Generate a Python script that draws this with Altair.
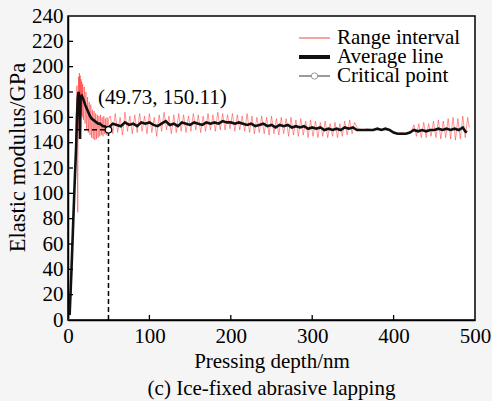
import altair as alt
import pandas as pd

# ---------------- data ----------------
avg_x = [2, 4, 6, 8, 10, 11, 12, 13, 14, 14.8, 15.5, 17, 19, 21, 23, 25, 27, 29, 31, 33,
         35, 37, 39, 41, 43, 45, 47, 50,
         55, 60, 65, 70, 75, 80, 85, 90, 95, 100, 105, 110, 115, 120, 125, 130, 135, 140,
         145, 150, 155, 160, 165, 170, 175, 180, 185, 190, 195, 200, 205, 210, 215, 220,
         225, 230, 235, 240, 245, 250, 255, 260, 265, 270, 275, 280, 285, 290, 295, 300,
         305, 310, 315, 320, 325, 330, 335, 340, 345, 350, 355, 360, 365, 370, 375, 380,
         385, 390, 395, 400, 405, 410, 415, 420, 425, 430, 435, 440, 445, 450, 455, 460,
         465, 470, 475, 480, 485, 488, 490]
avg_y = [4, 35, 70, 105, 137, 160, 175, 180, 176, 143, 176, 177, 174, 170, 167, 164, 161, 159, 158, 157,
         156, 155, 155, 154, 153, 153, 152, 152,
         155, 154, 153, 156, 154, 155, 153, 156, 155, 156, 154, 153, 155, 157, 154, 155, 153, 156,
         155, 154, 156, 155, 154, 156, 155, 156, 155, 157, 156, 156, 155, 156, 155, 154,
         155, 153, 154, 155, 153, 154, 152, 154, 153, 154, 152, 153, 152, 153, 151, 152,
         151, 152, 150, 151, 150, 151, 150, 152, 151, 152, 150, 150, 150, 150, 150, 151,
         150, 151, 150, 148, 147, 147, 147, 148, 150, 149, 150, 149, 150, 150, 151, 150,
         151, 150, 151, 150, 152, 149, 148]

rng_x = [1, 2, 3, 4, 5, 6, 7, 8, 9, 10, 11, 11.5, 12, 12.5, 13, 13.5, 14, 14.5, 15, 15.5,
         16, 16.5, 17, 17.5, 18, 19, 20, 21, 22, 23, 24, 25, 26, 27, 28, 29, 30, 31, 32, 33,
         34, 35, 36, 37, 38, 39, 40, 41, 42, 43, 44, 45, 46, 47, 48, 49, 50,
         52, 55, 58, 61, 64, 67, 70, 73, 76, 79, 82, 85, 88, 91, 94, 97, 100, 103, 106, 109,
         112, 115, 118, 121, 124, 127, 130, 133, 136, 139, 142, 145, 148, 151, 154, 157, 160,
         163, 166, 169, 172, 175, 178, 181, 184, 187, 190, 193, 196, 199, 202, 205, 208, 211,
         214, 217, 220, 223, 226, 229, 232, 235, 238, 241, 244, 247, 250, 253, 256, 259, 262,
         265, 268, 271, 274, 277, 280, 283, 286, 289, 292, 295, 298, 301, 304, 307, 310, 313,
         316, 319, 322, 325, 328, 331, 334, 337, 340, 343, 346, 349, 352,
         356, 362, 368, 374, 380, 386, 392, 398, 404, 410, 416, 422,
         425, 428, 431, 434, 437, 440, 443, 446, 449, 452, 455, 458, 461, 464, 467, 470, 473,
         476, 479, 482, 485, 488, 491, 493]
rng_y = [0, 3, 20, 38, 55, 72, 88, 108, 125, 150, 185, 120, 85, 170, 192, 150, 195, 160, 193, 158,
         190, 162, 188, 160, 186, 158, 184, 155, 180, 150, 176, 148, 172, 146, 170, 144, 166, 143, 165, 142,
         163, 143, 162, 144, 161, 145, 162, 146, 160, 145, 161, 147, 159, 146, 160, 147, 159,
         161, 147, 163, 148, 160, 146, 164, 149, 161, 147, 162, 148, 163, 149, 161, 147, 163, 148, 160, 145,
         162, 149, 164, 150, 161, 147, 162, 148, 163, 149, 162, 148, 161, 149, 163, 150, 162,
         148, 161, 149, 163, 150, 162, 149, 164, 150, 163, 150, 162, 151, 163, 149, 162, 150,
         161, 149, 163, 148, 161, 147, 160, 148, 161, 147, 160, 146, 161, 147, 159, 146, 160,
         147, 159, 145, 160, 146, 158, 145, 159, 146, 157, 144, 158, 145, 157, 144, 156, 145,
         157, 144, 155, 145, 156, 144, 155, 145, 157, 146, 158, 147, 156,
         151, 150, 151, 150, 151, 150, 151, 149, 147, 148, 147, 149,
         154, 145, 155, 144, 156, 144, 155, 145, 157, 144, 158, 143, 157, 144, 159, 143, 160,
         142, 159, 143, 161, 144, 160, 152]

crit_x = [49.73]
crit_y = [150.11]
crit_label = ["(49.73, 150.11)"]

x_tick_values = [100, 200, 300, 400]
y_tick_values = [20, 40, 60, 80, 100, 120, 140, 160, 180, 200, 220]
x_label_values = [0, 100, 200, 300, 400, 500]
y_label_values = [0, 20, 40, 60, 80, 100, 120, 140, 160, 180, 200, 220, 240]

legend_labels = ["Range interval", "Average line", "Critical point"]

# ---------------- tables ----------------
avg_df = pd.DataFrame({"x": avg_x, "y": avg_y})
rng_df = pd.DataFrame({"x": rng_x, "y": rng_y})
crit_df = pd.DataFrame({"x": crit_x, "y": crit_y, "label": crit_label})
vline_df = pd.DataFrame({"x": [crit_x[0], crit_x[0]], "y": [0, crit_y[0]]})
hline_df = pd.DataFrame({"x": [0, crit_x[0]], "y": [crit_y[0], crit_y[0]]})
xt_df = pd.DataFrame({"x": x_tick_values})
yt_df = pd.DataFrame({"y": y_tick_values})

FONT = "Liberation Serif"
W, H = 407, 304

xscale = alt.Scale(domain=[0, 500], nice=False, zero=False)
yscale = alt.Scale(domain=[0, 240], nice=False, zero=False)

xaxis = alt.Axis(values=x_label_values, ticks=False, tickSize=0, grid=False,
                 labelFont=FONT, labelFontSize=21, labelColor="black",
                 labelBaseline="alphabetic", labelPadding=22, labelFlush=False,
                 titleFont=FONT, titleFontSize=21, titleFontWeight="normal", titleColor="black",
                 titleBaseline="alphabetic", titleY=47, titleX=W / 2, titleAlign="center",
                 domainColor="black", domainWidth=1.5)
yaxis = alt.Axis(values=y_label_values, ticks=False, tickSize=0, grid=False,
                 labelFont=FONT, labelFontSize=21, labelColor="black",
                 labelBaseline="middle", labelPadding=5, labelFlush=False,
                 titleFont=FONT, titleFontSize=22.5, titleFontWeight="normal", titleColor="black",
                 titleBaseline="middle", titleX=-51, titleY=141, titleAngle=270,
                 titleAlign="center",
                 domainColor="black", domainWidth=1.5)

XT = "Pressing depth/nm"
YT = "Elastic modulus/GPa"


def X(f="x"):
    return alt.X(f"{f}:Q", scale=xscale, axis=xaxis, title=XT)


def Y(f="y"):
    return alt.Y(f"{f}:Q", scale=yscale, axis=yaxis, title=YT)


rng_line = alt.Chart(rng_df).mark_line(color="#ff1a1a", strokeWidth=0.7, opacity=0.65).encode(x=X(), y=Y())
avg_line = alt.Chart(avg_df).mark_line(color="#111111", strokeWidth=2.6).encode(x=X(), y=Y())
vline = alt.Chart(vline_df).mark_line(color="black", strokeWidth=1.5, strokeDash=[5, 3]).encode(x=X(), y=Y())
hline = alt.Chart(hline_df).mark_line(color="black", strokeWidth=1.5, strokeDash=[5, 3]).encode(x=X(), y=Y())
crit_pt = alt.Chart(crit_df).mark_point(shape="circle", size=42, filled=True, fill="white",
                                        stroke="black", strokeWidth=1.2, opacity=1).encode(x=X(), y=Y())
crit_txt = alt.Chart(crit_df).mark_text(font=FONT, fontSize=21, align="left", baseline="alphabetic",
                                        dx=-10.5, dy=-26, color="black").encode(x=X(), y=Y(), text="label:N")

xticks = alt.Chart(xt_df).mark_rule(color="black", strokeWidth=1.3).encode(
    x=X(), y=alt.value(H), y2=alt.value(H - 5))
yticks = alt.Chart(yt_df).mark_rule(color="black", strokeWidth=1.3).encode(
    y=Y(), x=alt.value(0), x2=alt.value(5))

# legend (drawn by hand)
leg_x0, leg_x1, leg_tx = 231, 262, 269
leg_rows = [22, 41, 60]
leg = []
leg.append(alt.Chart(rng_df).mark_rule(color="#f5a3a3", strokeWidth=1.2).encode(
    x=alt.value(leg_x0), x2=alt.value(leg_x1), y=alt.value(leg_rows[0])))
leg.append(alt.Chart(rng_df).mark_rule(color="#111111", strokeWidth=3).encode(
    x=alt.value(leg_x0), x2=alt.value(leg_x1), y=alt.value(leg_rows[1])))
leg.append(alt.Chart(rng_df).mark_rule(color="#9a9a9a", strokeWidth=1).encode(
    x=alt.value(leg_x0), x2=alt.value(leg_x1), y=alt.value(leg_rows[2])))
leg.append(alt.Chart(crit_df).mark_point(shape="circle", size=40, filled=True, fill="white",
                                         stroke="#9a9a9a", strokeWidth=1, opacity=1).encode(
    x=alt.value((leg_x0 + leg_x1) / 2), y=alt.value(leg_rows[2])))
for i, lab in enumerate(legend_labels):
    leg.append(alt.Chart(crit_df).mark_text(font=FONT, fontSize=21, align="left", baseline="alphabetic",
                                            color="black", text=lab).encode(
        x=alt.value(leg_tx), y=alt.value(leg_rows[i] + 6)))

chart = alt.layer(rng_line, avg_line, vline, hline, crit_pt, crit_txt, xticks, yticks, *leg).properties(
    width=W, height=H,
    title=alt.TitleParams("(c) Ice-fixed abrasive lapping", orient="bottom", anchor="middle",
                          font=FONT, fontSize=21, fontWeight="normal", color="black", offset=7),
    autosize=alt.AutoSizeParams(type="none"),
    padding={"left": 68, "top": 16, "right": 17, "bottom": 81},
    background="#f5f5f5",
).configure_view(stroke="black", strokeWidth=1.5, fill="white")

chart.save("out.html", embed_options={"renderer": "svg", "actions": False})
